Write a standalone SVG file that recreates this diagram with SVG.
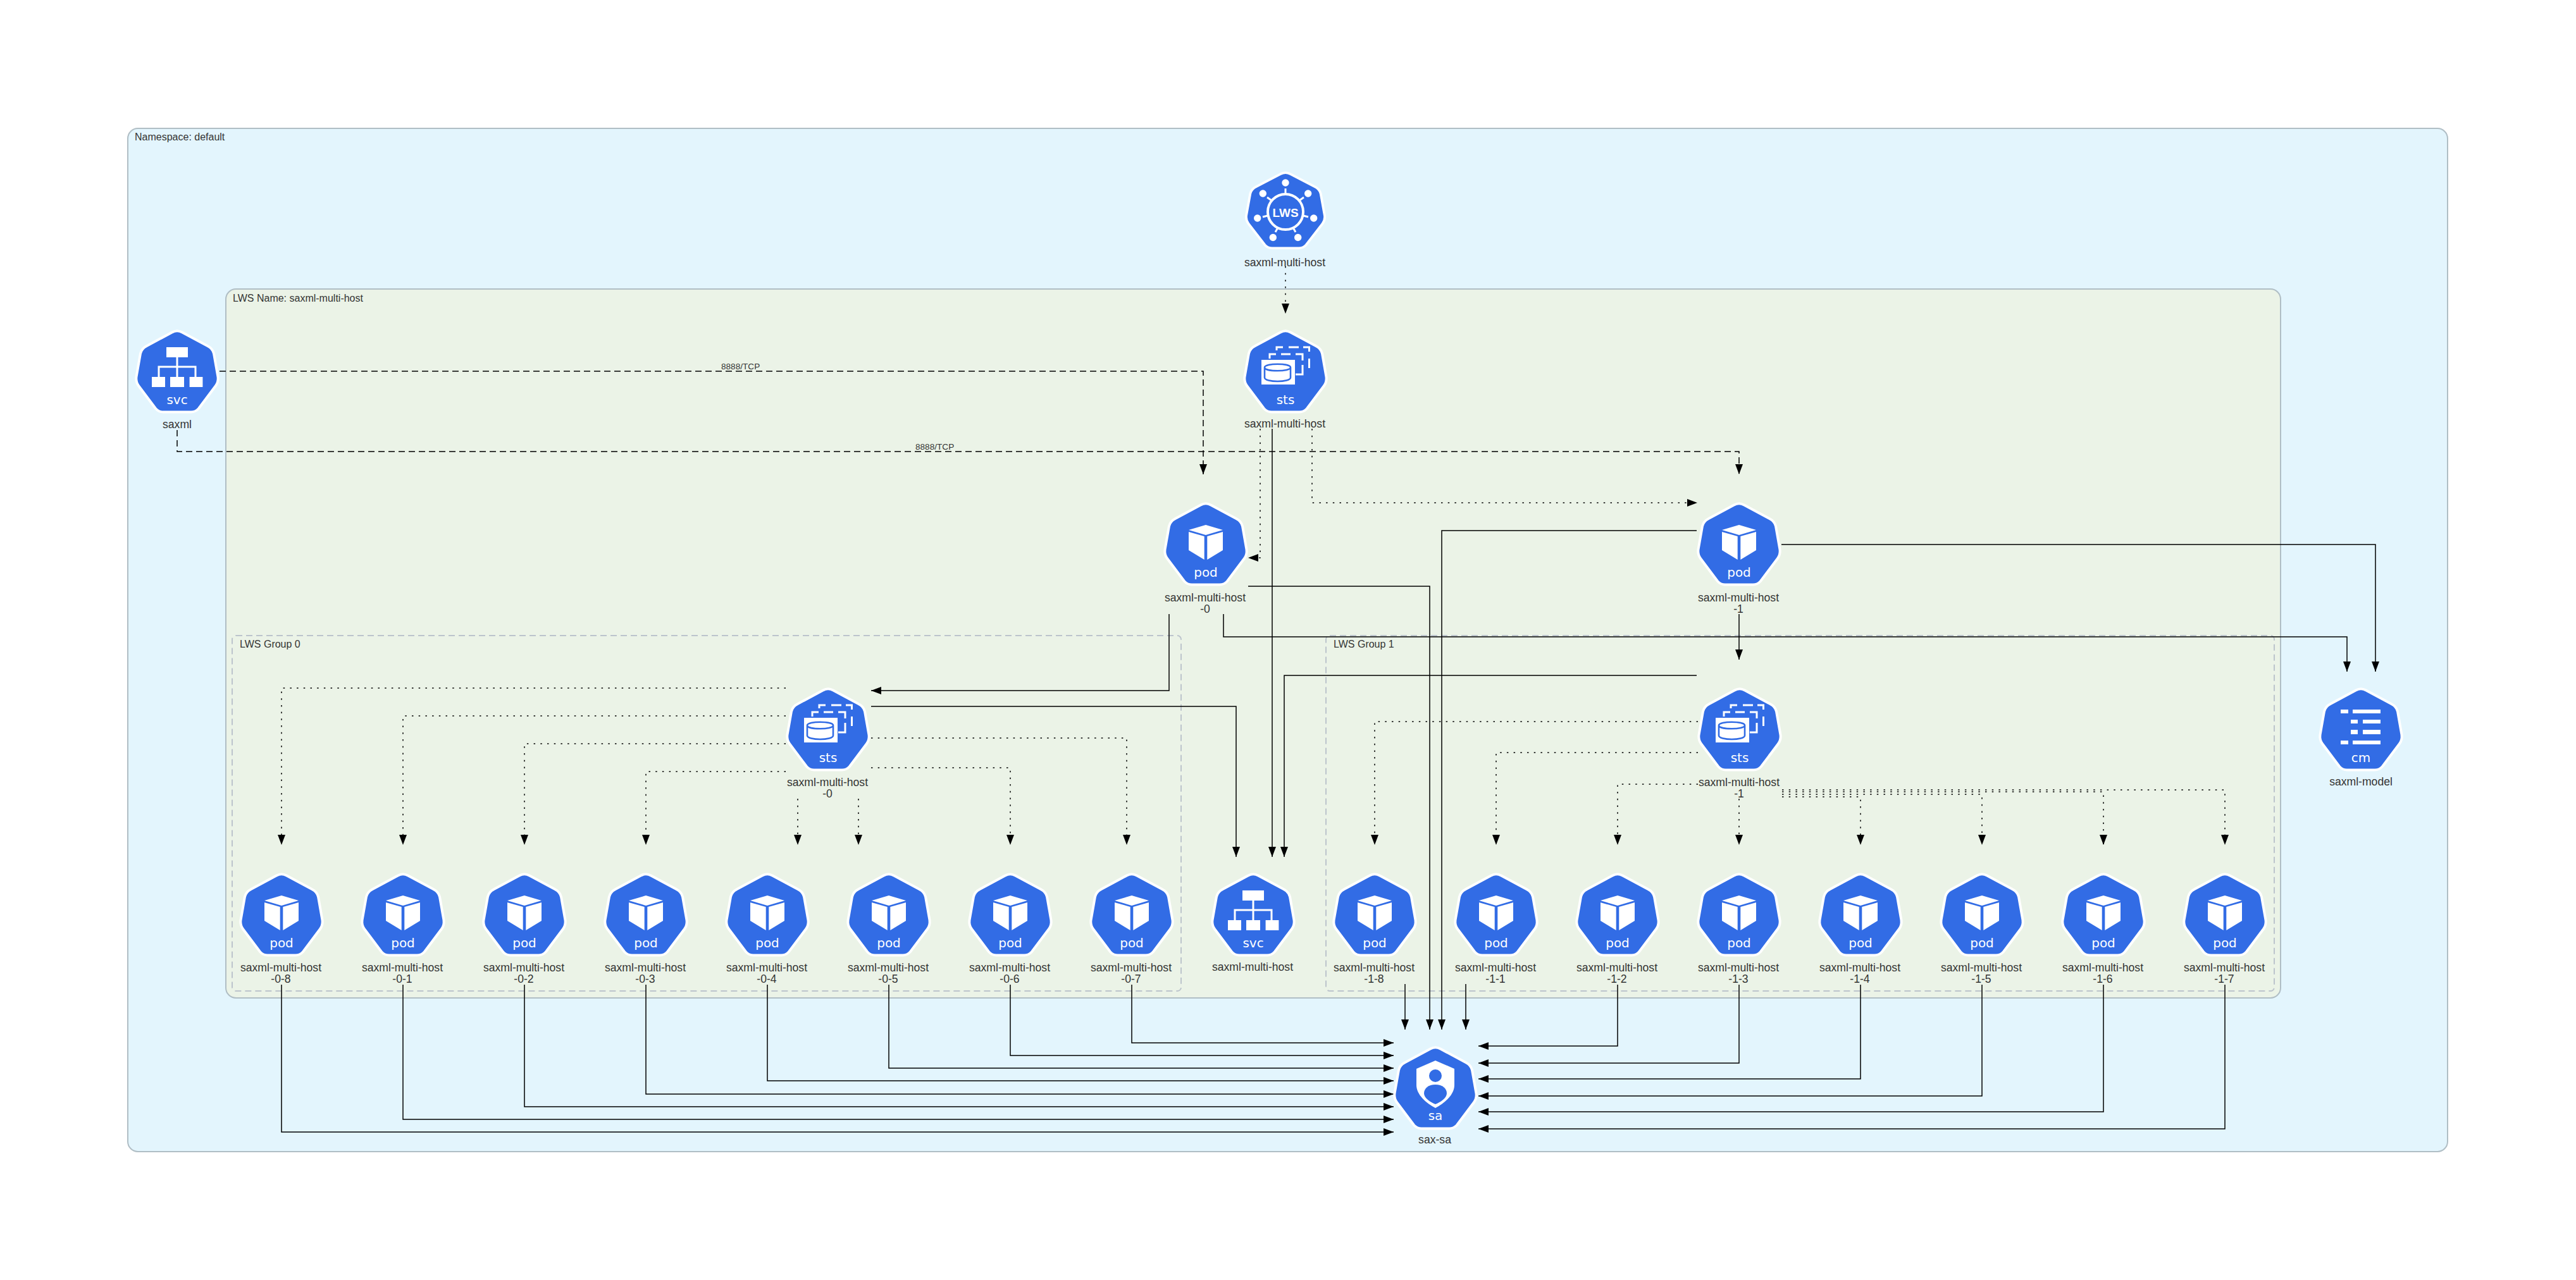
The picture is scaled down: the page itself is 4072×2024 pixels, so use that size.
<svg xmlns="http://www.w3.org/2000/svg" xmlns:xlink="http://www.w3.org/1999/xlink" width="4072" height="2024" viewBox="0 0 4072 2024">
<style>
text{font-family:"Liberation Sans",Arial,sans-serif;fill:#333}
.lbl{font-size:17.6px;text-anchor:middle}
.cl{font-size:16px}
.el{font-size:13.6px}
.ic{font-family:"DejaVu Sans",sans-serif;font-size:20px;fill:#fff;text-anchor:middle}
.hept{fill:#326ce5;stroke:#fff;stroke-width:4}
.w{fill:#fff}
.s,.da,.do{fill:none;stroke:#000;stroke-width:1.5}
.da{stroke-dasharray:10 6}
.do{stroke-dasharray:2.5 8.2}
.s,.da,.do{marker-end:url(#ah)}
.ns{fill:#e3f5fd;stroke:#b0bec5;stroke-width:2}
.lws{fill:#ebf3e7;stroke:#b0bec5;stroke-width:2}
.grp{fill:#ebf3e7;stroke:#bcc4cc;stroke-width:2;stroke-dasharray:10 6}
</style>
<defs>
<marker id="ah" markerUnits="userSpaceOnUse" markerWidth="16" markerHeight="14" refX="16" refY="7" orient="auto"><path d="M0,1 L16,7 L0,13 Z" fill="#000"/></marker>
<path id="h" class="hept" d="M-8,5.5 Q0,1 8,5.5 L48,27 Q56,31 58,39 L64.5,76 Q65.5,84 61,90 L34,126 Q29,131.5 22,131.5 L-22,131.5 Q-29,131.5 -34,126 L-61,90 Q-65.5,84 -64.5,76 L-58,39 Q-56,31 -48,27 Z"/>
<g id="pod"><use href="#h"/><path class="w" d="M0,37 L27,45 L0,53 L-27,45 Z M-27,48 L-2.3,55 L-2.3,92 L-27,77 Z M27,48 L2.3,55 L2.3,92 L27,77 Z"/><text class="ic" y="119">pod</text></g>
<g id="svc"><use href="#h"/><path class="w" d="M-17,29 H17 V45 H-17 Z M-40,76 H-19 V92 H-40 Z M-11,76 H11 V92 H-11 Z M19.6,76 H40.4 V92 H19.6 Z"/><path d="M0,45 V76 M-29,76 V60 H29 V76" fill="none" stroke="#fff" stroke-width="3"/><text class="ic" y="119">svc</text></g>
<g id="sts"><use href="#h"/><path d="M-25,47 V40 H-15 M-7,40 H8 M16,40 H27 V50 M27,57 V72 H16 M-14,34 V29 H-4 M5,29 H21 M28,29 H37.5 V36 M37.5,47 V62" fill="none" stroke="#fff" stroke-width="3"/><path class="w" d="M-38,49 H15 V88 H-38 Z"/><path d="M-33,61 V77 C-33,85 8,85 8,77 V61 C8,54 -33,54 -33,61 C-33,68 8,68 8,61" fill="none" stroke="#326ce5" stroke-width="2.6"/><text class="ic" y="119">sts</text></g>
</defs>
<rect width="4072" height="2024" fill="#fff"/>
<g id="clusters">
<rect class="ns" x="202" y="203" width="3667" height="1618" rx="16"/>
<text class="cl" x="213" y="222">Namespace: default</text>
<rect class="lws" x="357" y="457" width="3248" height="1121" rx="16"/>
<text class="cl" x="368" y="477">LWS Name: saxml-multi-host</text>
<rect class="grp" x="367" y="1005" width="1500" height="562" rx="6"/>
<text class="cl" x="379" y="1024">LWS Group 0</text>
<rect class="grp" x="2096" y="1005" width="1499" height="562" rx="6"/>
<text class="cl" x="2108" y="1024">LWS Group 1</text>
</g>
<g id="connectors">
<path class="do" d="M2032,421 V496"/>
<path class="da" d="M347,587 H1902 V750"/>
<path class="da" d="M280,680 V714 H2749 V750"/>
<text class="el" x="1140" y="584">8888/TCP</text>
<text class="el" x="1447" y="711">8888/TCP</text>
<path class="do" d="M1992,678 V882 H1973"/>
<path class="do" d="M2074,678 V795 H2683"/>
<path class="s" d="M2011,678 V1355"/>
<path class="s" d="M1973,927 H2260 V1628"/>
<path class="s" d="M2682,839 H2279 V1628"/>
<path class="s" d="M1934,971 V1007 H3710 V1062"/>
<path class="s" d="M2816,861 H3755 V1062"/>
<path class="s" d="M1848,971 V1092 H1377"/>
<path class="s" d="M1377,1117 H1954 V1355"/>
<path class="s" d="M2749,971 V1043"/>
<path class="s" d="M2682,1068 H2030 V1355"/>
<path class="do" d="M1242,1088 H445 V1336"/>
<path class="do" d="M1242,1132 H637 V1336"/>
<path class="do" d="M1242,1176 H829 V1336"/>
<path class="do" d="M1242,1220 H1021 V1336"/>
<path class="do" d="M1261,1263 V1336"/>
<path class="do" d="M1357,1263 V1336"/>
<path class="do" d="M1377,1214 H1597 V1336"/>
<path class="do" d="M1377,1167 H1781 V1336"/>
<path class="do" d="M2684,1141 H2173 V1336"/>
<path class="do" d="M2684,1190 H2365 V1336"/>
<path class="do" d="M2684,1240 H2557 V1336"/>
<path class="do" d="M2749,1263 V1336"/>
<path class="do" d="M2817,1260 H2941 V1336"/>
<path class="do" d="M2817,1256 H3133 V1336"/>
<path class="do" d="M2817,1252 H3325 V1336"/>
<path class="do" d="M2817,1249 H3517 V1336"/>
<path class="s" d="M445,1557 V1790 H2203"/>
<path class="s" d="M637,1557 V1770 H2203"/>
<path class="s" d="M829,1557 V1750 H2203"/>
<path class="s" d="M1021,1557 V1730 H2203"/>
<path class="s" d="M1213,1557 V1709 H2203"/>
<path class="s" d="M1405,1557 V1689 H2203"/>
<path class="s" d="M1597,1557 V1669 H2203"/>
<path class="s" d="M1789,1557 V1649 H2203"/>
<path class="s" d="M2221,1556 V1628"/>
<path class="s" d="M2317,1556 V1628"/>
<path class="s" d="M2557,1557 V1654 H2337"/>
<path class="s" d="M2749,1557 V1681 H2337"/>
<path class="s" d="M2941,1557 V1706 H2337"/>
<path class="s" d="M3133,1557 V1733 H2337"/>
<path class="s" d="M3325,1557 V1758 H2337"/>
<path class="s" d="M3517,1557 V1785 H2337"/>
</g>
<g id="lws" transform="translate(2032,270)">
<use href="#h" transform="scale(.96,.93)"/>
<g class="w"><circle cy="19" r="5.7"/><circle cx="-35.7" cy="36" r="5.7"/><circle cx="35.7" cy="36" r="5.7"/><circle cx="-44.3" cy="75" r="5.7"/><circle cx="44.7" cy="75" r="5.7"/><circle cx="-19.7" cy="105.5" r="5.7"/><circle cx="19.7" cy="105.5" r="5.7"/></g>
<circle cy="65" r="28" fill="none" stroke="#fff" stroke-width="4"/>
<path d="M0,28 V37 M-29,42 L-22,47 M29,42 L22,47 M-36,73 L-28,71 M36,73 L28,71 M-16,97 L-12,90 M16,97 L12,90" stroke="#fff" stroke-width="3" fill="none"/>
<text x="0" y="72.5" font-size="19" font-weight="700" text-anchor="middle" style="fill:#fff">LWS</text>
<text class="lbl" x="-1" y="151">saxml-multi-host</text>
</g>
<g id="svc-saxml" transform="translate(280,520)"><use href="#svc"/><text class="lbl" y="157">saxml</text></g>
<g id="sts-root" transform="translate(2032,520)"><use href="#sts"/><text class="lbl" x="-1" y="156">saxml-multi-host</text></g>
<g id="pod-0" transform="translate(1906,793)"><use href="#pod"/><text class="lbl" x="-1" y="158">saxml-multi-host</text><text class="lbl" x="-1" y="176">-0</text></g>
<g id="pod-1" transform="translate(2749,793)"><use href="#pod"/><text class="lbl" x="-1" y="158">saxml-multi-host</text><text class="lbl" x="-1" y="176">-1</text></g>
<g id="sts-0" transform="translate(1309,1086)"><use href="#sts"/><text class="lbl" x="-1" y="157">saxml-multi-host</text><text class="lbl" x="-1" y="175">-0</text></g>
<g id="sts-1" transform="translate(2750,1086)"><use href="#sts"/><text class="lbl" x="-1" y="157">saxml-multi-host</text><text class="lbl" x="-1" y="175">-1</text></g>
<g id="cm" transform="translate(3732,1086)"><use href="#h"/><path class="w" d="M-32,36 H-20 V42 H-32 Z M-13,36 H31 V42 H-13 Z M-16,52 H-5 V58 H-16 Z M3,52 H31 V58 H3 Z M-16,68 H-5 V75 H-16 Z M3,68 H31 V75 H3 Z M-32,85 H-20 V91 H-32 Z M-13,85 H31 V91 H-13 Z"/><text class="ic" y="119">cm</text><text class="lbl" y="156">saxml-model</text></g>
<g id="pod-0-8" transform="translate(445,1379)"><use href="#pod"/><text class="lbl" x="-1" y="157">saxml-multi-host</text><text class="lbl" x="-1" y="175">-0-8</text></g>
<g id="pod-0-1" transform="translate(637,1379)"><use href="#pod"/><text class="lbl" x="-1" y="157">saxml-multi-host</text><text class="lbl" x="-1" y="175">-0-1</text></g>
<g id="pod-0-2" transform="translate(829,1379)"><use href="#pod"/><text class="lbl" x="-1" y="157">saxml-multi-host</text><text class="lbl" x="-1" y="175">-0-2</text></g>
<g id="pod-0-3" transform="translate(1021,1379)"><use href="#pod"/><text class="lbl" x="-1" y="157">saxml-multi-host</text><text class="lbl" x="-1" y="175">-0-3</text></g>
<g id="pod-0-4" transform="translate(1213,1379)"><use href="#pod"/><text class="lbl" x="-1" y="157">saxml-multi-host</text><text class="lbl" x="-1" y="175">-0-4</text></g>
<g id="pod-0-5" transform="translate(1405,1379)"><use href="#pod"/><text class="lbl" x="-1" y="157">saxml-multi-host</text><text class="lbl" x="-1" y="175">-0-5</text></g>
<g id="pod-0-6" transform="translate(1597,1379)"><use href="#pod"/><text class="lbl" x="-1" y="157">saxml-multi-host</text><text class="lbl" x="-1" y="175">-0-6</text></g>
<g id="pod-0-7" transform="translate(1789,1379)"><use href="#pod"/><text class="lbl" x="-1" y="157">saxml-multi-host</text><text class="lbl" x="-1" y="175">-0-7</text></g>
<g id="svc-multi" transform="translate(1981,1379)"><use href="#svc"/><text class="lbl" x="-1" y="156">saxml-multi-host</text></g>
<g id="pod-1-8" transform="translate(2173,1379)"><use href="#pod"/><text class="lbl" x="-1" y="157">saxml-multi-host</text><text class="lbl" x="-1" y="175">-1-8</text></g>
<g id="pod-1-1" transform="translate(2365,1379)"><use href="#pod"/><text class="lbl" x="-1" y="157">saxml-multi-host</text><text class="lbl" x="-1" y="175">-1-1</text></g>
<g id="pod-1-2" transform="translate(2557,1379)"><use href="#pod"/><text class="lbl" x="-1" y="157">saxml-multi-host</text><text class="lbl" x="-1" y="175">-1-2</text></g>
<g id="pod-1-3" transform="translate(2749,1379)"><use href="#pod"/><text class="lbl" x="-1" y="157">saxml-multi-host</text><text class="lbl" x="-1" y="175">-1-3</text></g>
<g id="pod-1-4" transform="translate(2941,1379)"><use href="#pod"/><text class="lbl" x="-1" y="157">saxml-multi-host</text><text class="lbl" x="-1" y="175">-1-4</text></g>
<g id="pod-1-5" transform="translate(3133,1379)"><use href="#pod"/><text class="lbl" x="-1" y="157">saxml-multi-host</text><text class="lbl" x="-1" y="175">-1-5</text></g>
<g id="pod-1-6" transform="translate(3325,1379)"><use href="#pod"/><text class="lbl" x="-1" y="157">saxml-multi-host</text><text class="lbl" x="-1" y="175">-1-6</text></g>
<g id="pod-1-7" transform="translate(3517,1379)"><use href="#pod"/><text class="lbl" x="-1" y="157">saxml-multi-host</text><text class="lbl" x="-1" y="175">-1-7</text></g>
<g id="sa" transform="translate(2269,1653)"><use href="#h"/>
<path class="w" d="M0,24 L30,37 V63 C30,78 14,92 0,99 C-14,92 -30,78 -30,63 V37 Z"/>
<circle cy="48" r="10" fill="#326ce5"/>
<path d="M0,62 C11,62 18,68 18,76 C18,83 8,90 0,93 C-8,90 -18,83 -18,76 C-18,68 -11,62 0,62 Z" fill="#326ce5"/>
<text class="ic" y="118">sa</text><text class="lbl" x="-1" y="155">sax-sa</text></g>
</svg>
